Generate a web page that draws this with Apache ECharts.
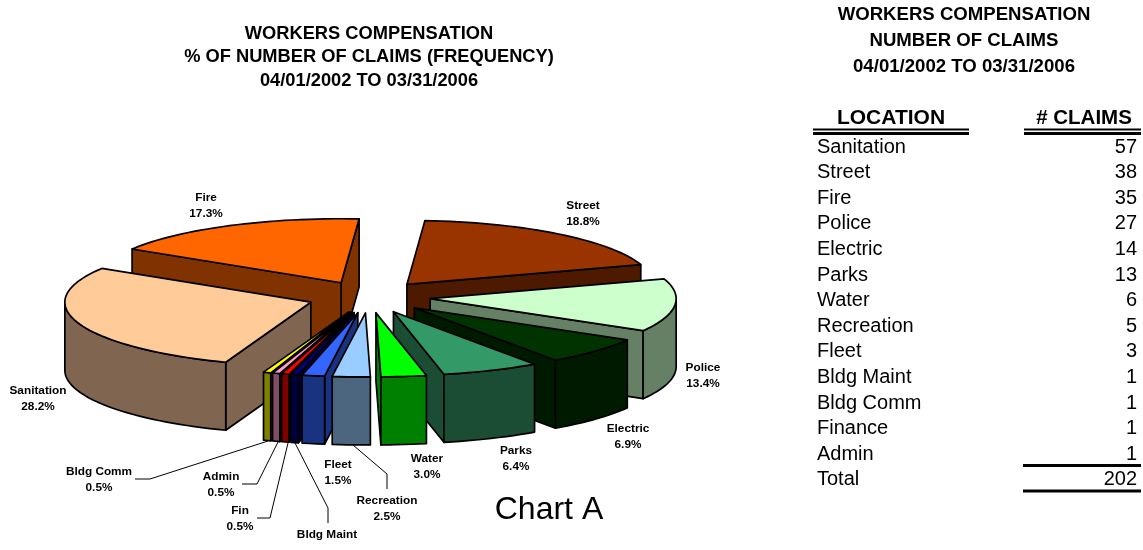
<!DOCTYPE html>
<html>
<head>
<meta charset="utf-8">
<style>
  html, body { margin: 0; padding: 0; background: #fff; }
  #main { width: 1143px; height: 550px; }
</style>
<script src="https://cdn.jsdelivr.net/npm/echarts@6/dist/echarts.min.js"></script>
</head>
<body>
<div id="main"></div>
<script>
// table, in the order it is printed
var locations = ["Sanitation", "Street", "Fire", "Police", "Electric", "Parks", "Water", "Recreation", "Fleet", "Bldg Maint", "Bldg Comm", "Finance", "Admin"];
var claims = [57, 38, 35, 27, 14, 13, 6, 5, 3, 1, 1, 1, 1];
var totalClaims = 202;

// pie slices clockwise from the top, the chart says "Fin" where the table says "Finance"
var sliceNames = ["Street", "Police", "Electric", "Parks", "Water", "Recreation", "Fleet", "Bldg Maint", "Fin", "Admin", "Bldg Comm", "Sanitation", "Fire"];
var sliceTops = ["#993300", "#CCFFCC", "#003300", "#339966", "#00FF00", "#99CCFF", "#3366FF", "#000080", "#FF0000", "#FF99CC", "#FFFF00", "#FFCC99", "#FF6600"];
var sliceWalls = ["#4D1A00", "#668066", "#001A00", "#1A4D33", "#008000", "#4D6680", "#1A3380", "#000040", "#800000", "#804D66", "#808000", "#806650", "#803300"];

var leftTitle = ["WORKERS COMPENSATION", "% OF NUMBER OF CLAIMS (FREQUENCY)", "04/01/2002 TO 03/31/2006"];
var rightTitle = ["WORKERS COMPENSATION", "NUMBER OF CLAIMS", "04/01/2002 TO 03/31/2006"];

// pie shape
var cx = 369, cy = 297, rx = 246, ry = 64, depth = 68, explode = 0.25, startAngle = 4.2;

// label centres and leader lines
var labelPos = {
  "Fire": [206, 206], "Street": [583, 214], "Police": [703, 376], "Electric": [628, 437],
  "Parks": [516, 459], "Water": [427, 467], "Recreation": [387, 509], "Fleet": [338, 473],
  "Bldg Maint": [327, 543], "Fin": [240, 519], "Admin": [221, 485], "Bldg Comm": [99, 480],
  "Sanitation": [38, 399]
};
var leaders = [
  [[135, 479], [150, 479], [268, 441]],
  [[242, 484], [257, 484], [278, 442]],
  [[257, 518], [270, 518], [288, 443]],
  [[328, 523], [328, 508], [295, 443]],
  [[353, 445], [387, 474], [387, 489]]
];

var slices = [];
var angle = startAngle;
sliceNames.forEach(function (name, i) {
  var value = claims[locations.indexOf(name === "Fin" ? "Finance" : name)];
  var sweep = value / totalClaims * 360;
  slices.push({
    name: name, value: value, a1: angle, a2: angle + sweep, mid: angle + sweep / 2,
    top: sliceTops[i], wall: sliceWalls[i]
  });
  angle += sweep;
});
// back slices first so that the front ones cover them
slices.sort(function (a, b) {
  return Math.cos(b.mid * Math.PI / 180) - Math.cos(a.mid * Math.PI / 180);
});

function rad(d) { return d * Math.PI / 180; }

function sliceShapes(s) {
  var ox = cx + explode * rx * Math.sin(rad(s.mid));
  var oy = cy - explode * ry * Math.cos(rad(s.mid));
  function rim(a, drop) {
    return [ox + rx * Math.sin(rad(a)), oy - ry * Math.cos(rad(a)) + (drop || 0)];
  }
  function arc(from, to) {
    var pts = [], n = Math.max(2, Math.ceil((to - from) / 2));
    for (var k = 0; k <= n; k++) pts.push(from + (to - from) * k / n);
    return pts;
  }
  function poly(points, fill) {
    return {
      type: "polygon",
      shape: { points: points },
      style: { fill: fill, stroke: "#000", lineWidth: 1.7, lineJoin: "round" }
    };
  }
  function radialWall(a) {
    var p = rim(a), q = rim(a, depth);
    return poly([[ox, oy], p, q, [ox, oy + depth]], s.wall);
  }
  var shapes = [];
  // radial walls facing the viewer
  if (Math.sin(rad(s.a2)) > 0) shapes.push(radialWall(s.a2));
  if (Math.sin(rad(s.a1)) < 0) shapes.push(radialWall(s.a1));
  // outer wall, only the front half of the rim shows
  var from = Math.max(s.a1, 90), to = Math.min(s.a2, 270);
  if (to > from) {
    var upper = arc(from, to).map(function (a) { return rim(a); });
    var lower = arc(from, to).reverse().map(function (a) { return rim(a, depth); });
    shapes.push(poly(upper.concat(lower), s.wall));
  }
  var top = [[ox, oy]].concat(arc(s.a1, s.a2).map(function (a) { return rim(a); }));
  shapes.push(poly(top, s.top));
  return shapes;
}

var texts = [];
function addText(str, x, y, size, bold, align) {
  texts.push({
    type: "text", z: 10, silent: true, x: x, y: y,
    style: {
      text: str, fill: "#000", align: align || "center", verticalAlign: "middle",
      font: (bold ? "bold " : "") + size + 'px "Liberation Sans", Arial, sans-serif'
    }
  });
}
function addRule(x1, x2, y, w) {
  texts.push({
    type: "line", z: 10, silent: true,
    shape: { x1: x1, y1: y, x2: x2, y2: y },
    style: { stroke: "#000", lineWidth: w }
  });
}

leftTitle.forEach(function (t, i) { addText(t, 369, [34, 57, 81][i], 18.3, true); });
rightTitle.forEach(function (t, i) { addText(t, 964, [15, 41, 67][i], 18.6, true); });
addText("LOCATION", 891, 118, 21, true);
addText("# CLAIMS", 1084, 118, 20.5, true);
addRule(813, 969, 129.5, 2);
addRule(813, 969, 133.5, 3);
addRule(1024, 1141, 129.5, 2);
addRule(1024, 1141, 133.5, 3);
locations.forEach(function (name, i) {
  var y = 147 + i * 25.6;
  addText(name, 817, y, 20, false, "left");
  addText(String(claims[i]), 1137, y, 20, false, "right");
});
addText("Total", 817, 479, 20, false, "left");
addText(String(totalClaims), 1137, 479, 20, false, "right");
addRule(1023, 1141, 465.5, 3);
addRule(1023, 1141, 491, 3);
addText("Chart A", 549, 510, 32, false);

slices.forEach(function (s) {
  var p = labelPos[s.name];
  addText(s.name, p[0], p[1] - 8, 11.8, true);
  // the percent line of Bldg Maint falls off the bottom of the original page
  if (s.name !== "Bldg Maint") {
    addText((s.value / totalClaims * 100).toFixed(1) + "%", p[0], p[1] + 8, 11.8, true);
  }
});
leaders.forEach(function (pts) {
  texts.push({
    type: "polyline", z: 9, silent: true,
    shape: { points: pts },
    style: { stroke: "#000", lineWidth: 1, fill: null }
  });
});

var myChart = echarts.init(document.getElementById("main"));
myChart.setOption({
  animation: false,
  backgroundColor: "#fff",
  graphic: { elements: texts },
  series: [{
    type: "custom",
    coordinateSystem: "none",
    silent: true,
    data: slices.map(function (s) { return s.value; }),
    renderItem: function (params) {
      return { type: "group", children: sliceShapes(slices[params.dataIndex]) };
    }
  }]
});
</script>
</body>
</html>
